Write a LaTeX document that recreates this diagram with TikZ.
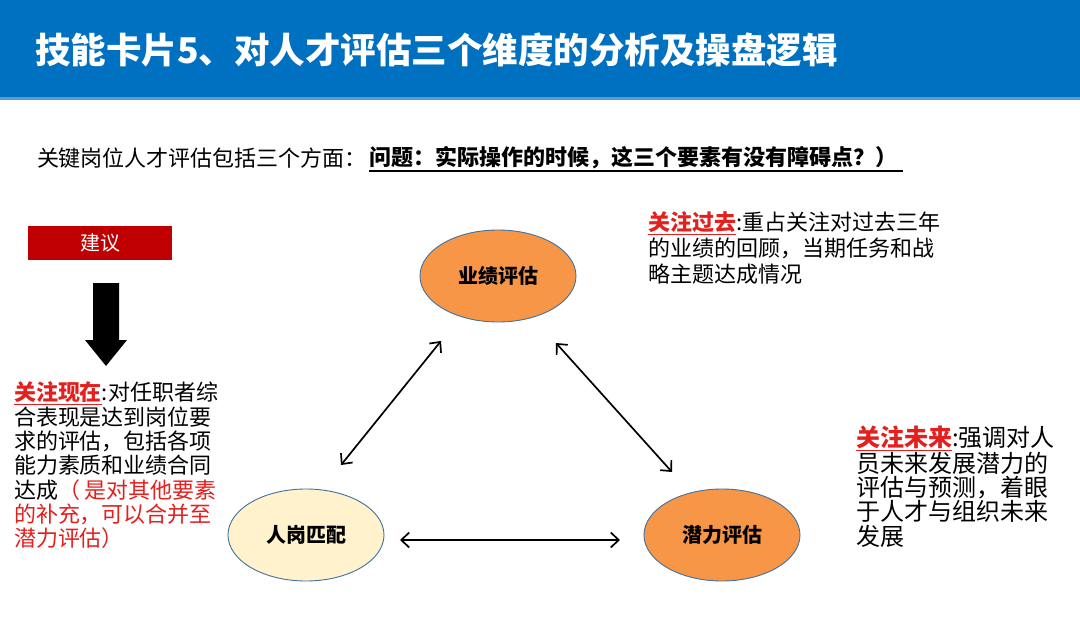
\documentclass[tikz,border=0pt]{standalone}
\usepackage{fontspec}
\setmainfont{Noto Sans CJK SC}
\usetikzlibrary{shapes.geometric,arrows.meta}
\definecolor{hdrblue}{HTML}{0070C0}
\definecolor{hdrline}{HTML}{5B9BD5}
\definecolor{orangefill}{HTML}{F79646}
\definecolor{yellowfill}{HTML}{FFF2CC}
\definecolor{ellborder}{HTML}{41719C}
\definecolor{txtred}{HTML}{E3201E}
\definecolor{boxred}{HTML}{C00000}
\newcommand{\focus}[1]{\textcolor{txtred}{\underline{\bfseries #1}}}
\begin{document}
\begin{tikzpicture}[x=1pt,y=-1pt,
  every node/.style={inner sep=0pt, outer sep=0pt},
  ellipsebox/.style={ellipse, draw=ellborder, line width=0.9pt,
    minimum width=156pt, minimum height=92pt,
    font=\fontsize{20}{24}\selectfont\bfseries},
  dblarrow/.style={line width=1.7pt,
    {Straight Barb[length=8pt,width=15pt,line width=1.7pt]}-{Straight Barb[length=8pt,width=15pt,line width=1.7pt]}},
  body/.style={align=left, anchor=north west},
]
\useasboundingbox (0,0) rectangle (1080,632);
\fill[white] (0,0) rectangle (1080,632);
% header
\fill[hdrblue] (0,0) rectangle (1080,97);
\fill[hdrline] (0,97) rectangle (1080,100);
\node[anchor=west, text=white, font=\fontsize{35.5}{40}\selectfont\bfseries] (title) at (35,50)
  {技能卡片5、对人才评估三个维度的分析及操盘逻辑};
% subtitle
\node[anchor=west, font=\fontsize{22}{24}\selectfont] (sub1) at (37,158) {关键岗位人才评估包括三个方面：};
\node[anchor=west, font=\fontsize{22}{24}\selectfont\bfseries] (sub2) at ([xshift=2pt]sub1.east) {问题：实际操作的时候，这三个要素有没有障碍点？）};
\draw[line width=1.6pt] ([yshift=-1.5pt]sub2.south west) -- ([yshift=-1.5pt,xshift=6pt]sub2.south east);
% suggestion box and arrow
\node[fill=boxred, minimum width=144pt, minimum height=34pt, text=white,
  font=\fontsize{20}{22}\selectfont] (advice) at (100,243) {建议};
\fill[black] (93,283) -- (119,283) -- (119,340) -- (127,340) -- (106,366)
  -- (85,340) -- (93,340) -- cycle;
% left text
\node[body, font=\fontsize{22}{24.3}\selectfont] (now) at (14,382)
  {\focus{关注现在}:对任职者综\\
   合表现是达到岗位要\\
   求的评估，包括各项\\
   能力素质和业绩合同\\
   达成\textcolor{txtred}{（ 是对其他要素}\\
   \textcolor{txtred}{的补充，可以合并至}\\
   \textcolor{txtred}{潜力评估）}};
% top right text
\node[body, font=\fontsize{22}{26}\selectfont] (past) at (648,212)
  {\focus{关注过去}:重占关注对过去三年\\
   的业绩的回顾，当期任务和战\\
   略主题达成情况};
% right text
\node[body, font=\fontsize{24}{24.3}\selectfont] (future) at (856,426)
  {\focus{关注未来}:强调对人\\
   员未来发展潜力的\\
   评估与预测，着眼\\
   于人才与组织未来\\
   发展};
% ellipses
\node[ellipsebox, fill=orangefill] (perf) at (498,276) {业绩评估};
\node[ellipsebox, fill=yellowfill] (fit) at (306,535) {人岗匹配};
\node[ellipsebox, fill=orangefill] (pot) at (722,535) {潜力评估};
% connectors
\coordinate (a1) at (441,341);
\coordinate (a2) at (341,465);
\coordinate (b1) at (556,343);
\coordinate (b2) at (672,472);
\coordinate (c1) at (400,540);
\coordinate (c2) at (620,540);
\draw[dblarrow] (a1) -- (a2);
\draw[dblarrow] (b1) -- (b2);
\draw[dblarrow] (c1) -- (c2);
\end{tikzpicture}
\end{document}
